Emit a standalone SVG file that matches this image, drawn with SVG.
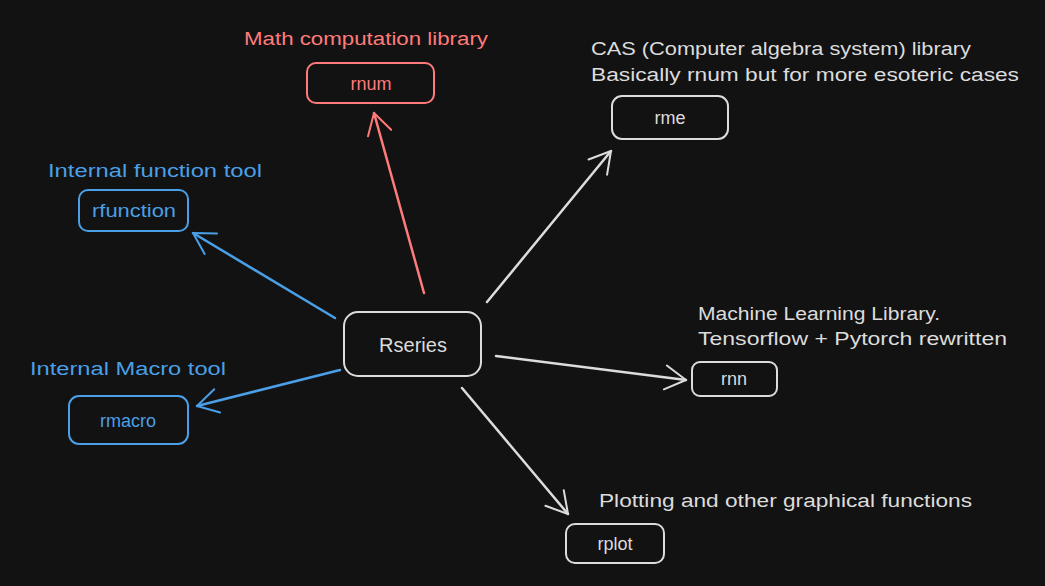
<svg xmlns="http://www.w3.org/2000/svg" width="1045" height="586" viewBox="0 0 1045 586">
<defs>
<style>
text{font-family:"Liberation Sans",Arial,sans-serif;font-size:18px}
.w{fill:#dcdcdc}.r{fill:#ff7b7b}.b{fill:#4a9fe6}
.box{fill:#121212;stroke-width:2}
.bw{stroke:#dcdcdc}.br{stroke:#ff7b7b}.bb{stroke:#4a9fe6}
.c{fill:none;stroke-width:2.5;stroke-linecap:round}
</style>
<marker id="aw" viewBox="0 0 20 20" refX="18" refY="10" markerWidth="16" markerHeight="16" markerUnits="userSpaceOnUse" orient="auto" overflow="visible"><path d="M-8,-5 L18,10 L-8,25" fill="none" stroke="#dcdcdc" stroke-width="2.5" stroke-linecap="round" stroke-linejoin="round"/></marker>
<marker id="ar" viewBox="0 0 20 20" refX="18" refY="10" markerWidth="16" markerHeight="16" markerUnits="userSpaceOnUse" orient="auto" overflow="visible"><path d="M-8,-5 L18,10 L-8,25" fill="none" stroke="#ff7b7b" stroke-width="2.5" stroke-linecap="round" stroke-linejoin="round"/></marker>
<marker id="ab" viewBox="0 0 20 20" refX="18" refY="10" markerWidth="16" markerHeight="16" markerUnits="userSpaceOnUse" orient="auto" overflow="visible"><path d="M-8,-5 L18,10 L-8,25" fill="none" stroke="#4a9fe6" stroke-width="2.5" stroke-linecap="round" stroke-linejoin="round"/></marker>
</defs>
<rect width="1045" height="586" fill="#121212"/>
<g id="connectors">
<line class="c" stroke="#ff7b7b" x1="424" y1="293" x2="374" y2="113" marker-end="url(#ar)"/>
<line class="c" stroke="#dcdcdc" x1="487" y1="302" x2="611" y2="151" marker-end="url(#aw)"/>
<line class="c" stroke="#4a9fe6" x1="335" y1="318" x2="193" y2="233" marker-end="url(#ab)"/>
<line class="c" stroke="#4a9fe6" x1="340" y1="370" x2="197" y2="406" marker-end="url(#ab)"/>
<line class="c" stroke="#dcdcdc" x1="496" y1="356" x2="686" y2="380" marker-end="url(#aw)"/>
<line class="c" stroke="#dcdcdc" x1="462" y1="388" x2="568" y2="514" marker-end="url(#aw)"/>
</g>
<g id="rseries">
<rect class="box bw" x="344" y="312" width="137" height="64" rx="14"/>
<text class="w" x="413" y="352" text-anchor="middle" style="font-size:20px">Rseries</text>
</g>
<g id="rnum">
<text class="r" x="244" y="45" textLength="244" lengthAdjust="spacingAndGlyphs">Math computation library</text>
<rect class="box br" x="307" y="63" width="127" height="40" rx="9"/>
<text class="r" x="371" y="90" text-anchor="middle">rnum</text>
</g>
<g id="rme">
<text class="w" x="591" y="55" textLength="380" lengthAdjust="spacingAndGlyphs">CAS (Computer algebra system) library</text>
<text class="w" x="591" y="81" textLength="428" lengthAdjust="spacingAndGlyphs">Basically rnum but for more esoteric cases</text>
<rect class="box bw" x="612" y="96" width="116" height="43" rx="10"/>
<text class="w" x="670" y="124" text-anchor="middle">rme</text>
</g>
<g id="rfunction">
<text class="b" x="48" y="177" textLength="214" lengthAdjust="spacingAndGlyphs">Internal function tool</text>
<rect class="box bb" x="79" y="190" width="109" height="41" rx="9"/>
<text class="b" x="92" y="217" textLength="84" lengthAdjust="spacingAndGlyphs">rfunction</text>
</g>
<g id="rmacro">
<text class="b" x="30" y="375" textLength="196" lengthAdjust="spacingAndGlyphs">Internal Macro tool</text>
<rect class="box bb" x="69" y="396" width="119" height="48" rx="10"/>
<text class="b" x="128" y="427" text-anchor="middle">rmacro</text>
</g>
<g id="rnn">
<text class="w" x="698" y="320" textLength="242" lengthAdjust="spacingAndGlyphs">Machine Learning Library.</text>
<text class="w" x="698" y="345" textLength="309" lengthAdjust="spacingAndGlyphs">Tensorflow + Pytorch rewritten</text>
<rect class="box bw" x="692" y="362" width="85" height="34" rx="8"/>
<text class="w" x="734" y="385" text-anchor="middle">rnn</text>
</g>
<g id="rplot">
<text class="w" x="599" y="507" textLength="373" lengthAdjust="spacingAndGlyphs">Plotting and other graphical functions</text>
<rect class="box bw" x="566" y="524" width="98" height="39" rx="9"/>
<text class="w" x="615" y="550" text-anchor="middle">rplot</text>
</g>
</svg>
